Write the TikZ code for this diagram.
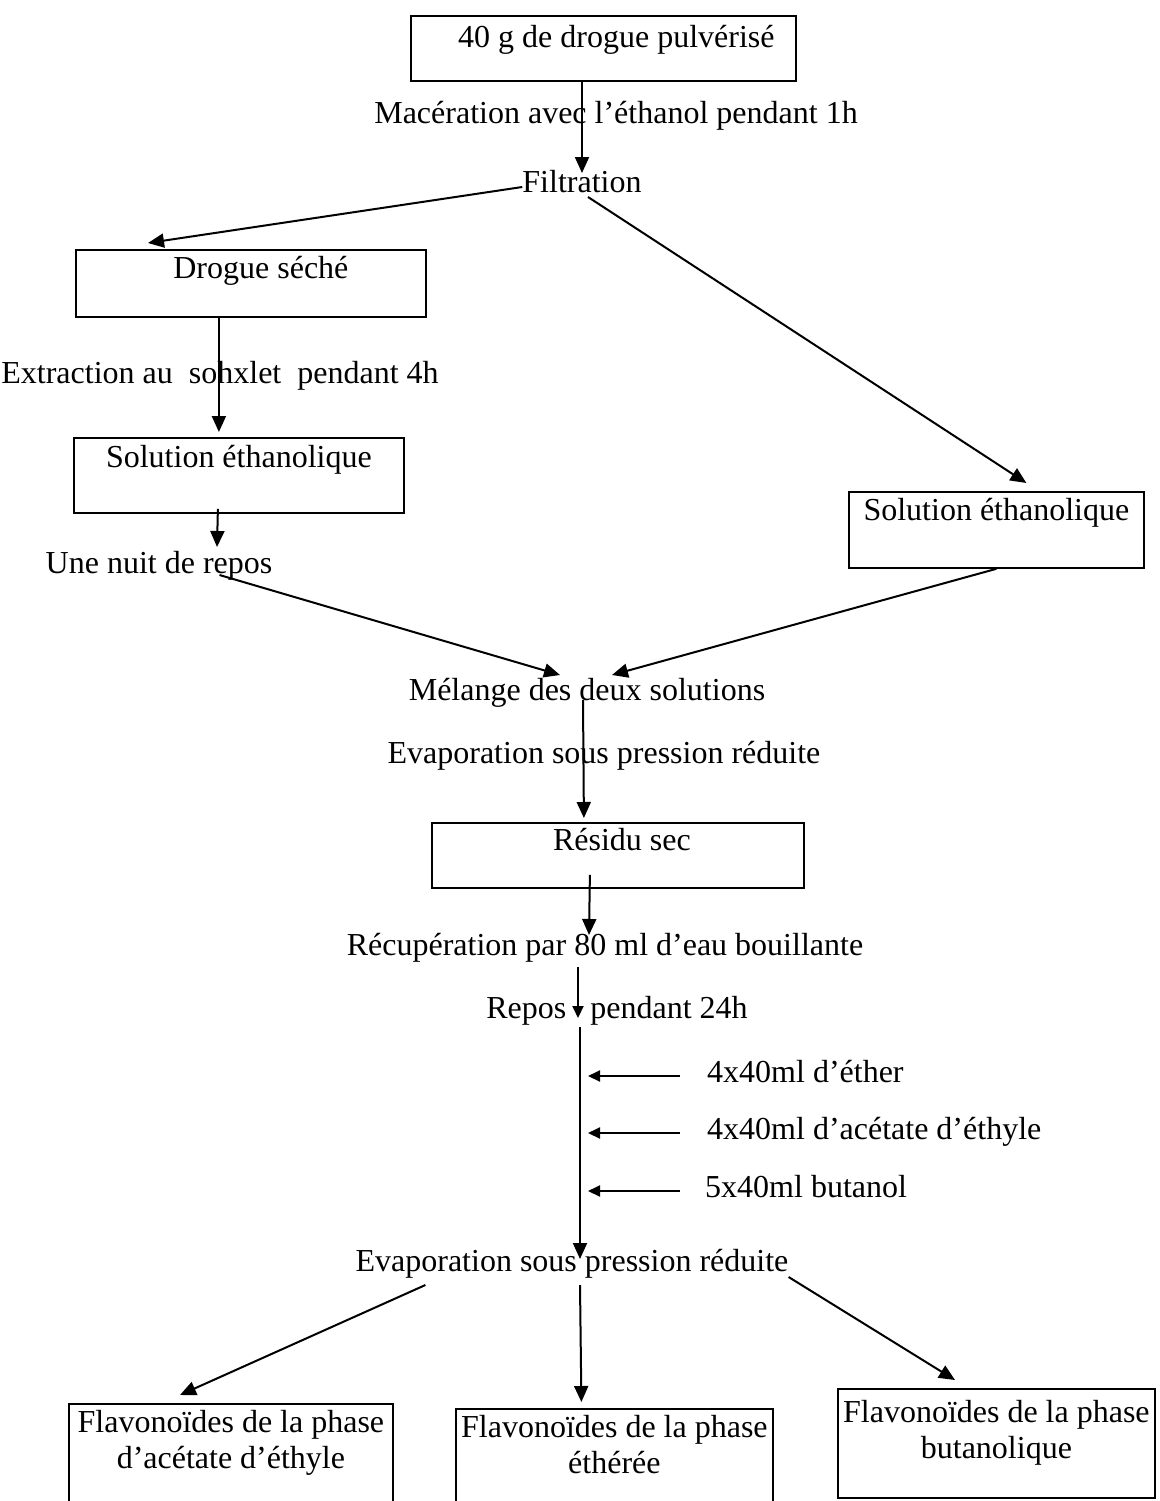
\documentclass[tikz,border=0pt]{standalone}
\usepackage{fontspec}
\setmainfont{Liberation Serif}
\usetikzlibrary{arrows.meta,calc}

\tikzset{
  boite/.style={draw, line width=1.8pt, inner sep=0pt, align=flush center, anchor=north west},
  etiq/.style={inner sep=0pt, anchor=base},
  fleche/.style={line width=2pt, -{Triangle[length=16pt,width=14pt]}},
  petite/.style={line width=2pt, -{Triangle[length=12pt,width=11pt]}},
}

\begin{document}
\begin{tikzpicture}[x=1pt, y=-1pt, font=\fontsize{32}{36}\selectfont]
\useasboundingbox (0,0) rectangle (1159,1501);

% les boites
\node[boite, text width=385pt, text height=32pt, text depth=33pt] (depart) at (410,15) {\hspace*{26pt}40 g de drogue pulvérisé};
\node[boite, text width=350pt, text height=29pt, text depth=38pt] (seche) at (75,249) {\hspace*{20pt}Drogue séché};
\node[boite, text width=330pt, text height=30pt, text depth=45pt] (solG) at (73,437) {Solution éthanolique};
\node[boite, text width=295pt, text height=29pt, text depth=47pt] (solD) at (848,491) {Solution éthanolique};
\node[boite, text width=372pt, text height=28pt, text depth=37pt] (residu) at (431,822) {\hspace*{8pt}Résidu sec};
\node[boite, text width=324pt, text height=29pt, text depth=111pt] (acetate) at (68,1403) {Flavonoïdes de la phase\\d’acétate d’éthyle};
\node[boite, text width=317pt, text height=29pt, text depth=111pt] (ether) at (455,1408) {Flavonoïdes de la phase\\éthérée};
\node[boite, text width=317pt, text height=34pt, text depth=75pt] (butanol) at (837,1388) {Flavonoïdes de la phase\\butanolique};

% les etapes
\node[etiq] (macer) at (616,124) {Macération avec l’éthanol pendant 1h};
\node[etiq] (filtr) at (582,192) {Filtration};
\node[etiq] (extract) at (220,383) {Extraction au~ sohxlet~ pendant 4h};
\node[etiq] (nuit) at (159,573) {Une nuit de repos};
\node[etiq] (melange) at (587,700) {Mélange des deux solutions};
\node[etiq] (evapA) at (604,763) {Evaporation sous pression réduite};
\node[etiq] (recup) at (605,955) {Récupération par 80 ml d’eau bouillante};
\node[etiq] (repos) at (617,1018) {Repos~~~pendant 24h};
\node[etiq, anchor=base west] (solvA) at (707,1082) {4x40ml d’éther};
\node[etiq, anchor=base west] (solvB) at (707,1139) {4x40ml d’acétate d’éthyle};
\node[etiq, anchor=base west] (solvC) at (705,1197) {5x40ml butanol};
\node[etiq] (evapB) at (572,1271) {Evaporation sous pression réduite};

% les fleches
\draw[fleche] (depart.south -| filtr.north) -- ($(filtr.base)+(0,-19)$);
\draw[fleche] ($(filtr.base west)+(0,-5)$) -- ($(seche.north west)+(73,-6)$);
\draw[fleche] ($(filtr.base)+(6,5)$) -- ($(solD.north)+(30,-8)$);
\draw[fleche] ($(seche.south)+(-32,0)$) -- ($(solG.north)+(-20,-5)$);
\draw[fleche] ($(solG.south)+(-21,-5)$) -- ($(nuit.base)+(58,-26)$);
\draw[fleche] ($(nuit.base east)+(-53,2)$) -- ($(melange.base)+(-27,-25)$);
\draw[fleche] (solD.south) -- ($(melange.base)+(25,-25)$);
\draw[fleche] ($(melange.base)+(-4,0)$) -- ($(residu.north)+(-34,-4)$);
\draw[fleche] ($(residu.south)+(-28,-14)$) -- ($(recup.base)+(-16,-20)$);
\draw[petite] ($(recup.base)+(-27,12)$) -- ($(repos.base)+(-39,0)$);
\draw[fleche] ($(repos.base)+(-37,9)$) -- ($(evapB.base)+(8,-12)$);
\draw[petite] ($(solvA.base west)+(-27,-6)$) -- ($(solvA.base west)+(-119,-6)$);
\draw[petite] ($(solvB.base west)+(-27,-6)$) -- ($(solvB.base west)+(-119,-6)$);
\draw[petite] ($(solvC.base west)+(-25,-6)$) -- ($(solvC.base west)+(-117,-6)$);
\draw[fleche] ($(evapB.base west)+(70,14)$) -- ($(acetate.north west)+(112,-8)$);
\draw[fleche] ($(evapB.base)+(8,14)$) -- ($(ether.north)+(-33,-6)$);
\draw[fleche] ($(evapB.base east)+(0,6)$) -- ($(butanol.north west)+(118,-8)$);
\end{tikzpicture}
\end{document}
